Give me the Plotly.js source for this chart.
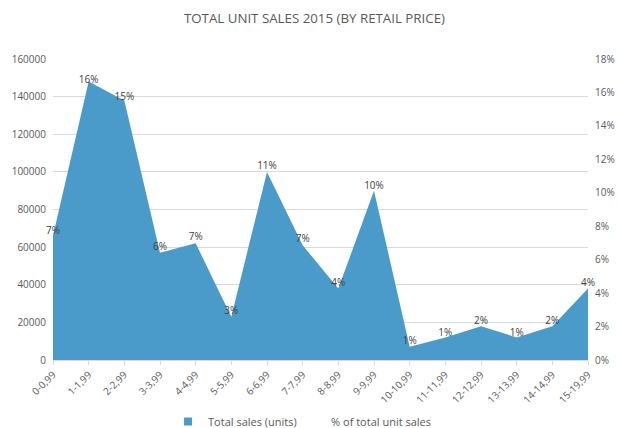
<!DOCTYPE html>
<html>
<head>
<meta charset="utf-8">
<script src="https://cdn.plot.ly/plotly-3.0.1.min.js"></script>
<style>html,body{margin:0;padding:0;background:#fff}#chart{width:619px;height:428px}</style>
</head>
<body>
<div id="chart"></div>
<script>
const categories = ["0-0,99","1-1,99","2-2,99","3-3,99","4-4,99","5-5,99","6-6,99","7-7,99","8-8,99","9-9,99","10-10,99","11-11,99","12-12,99","13-13,99","14-14,99","15-19,99"];
const totalSales = [66000,148000,138000,57000,62000,23000,100000,61000,38000,90000,7000,12000,18000,12000,18000,38000];
const pctOfTotal = [7.4,16.4,15.4,6.4,7.0,2.6,11.3,6.9,4.3,10.1,0.8,1.3,2.0,1.3,2.0,4.3];
const pctTicks = [0,2,4,6,8,10,12,14,16,18];

const font = {family: "Open Sans, sans-serif", color: "#595959", size: 10};
const blue = "#4a9bc9";

const traces = [
  {
    x: categories, y: totalSales, name: "Total sales (units)",
    type: "scatter", mode: "none", fill: "tozeroy",
    fillcolor: blue, yaxis: "y", hoverinfo: "skip", showlegend: false
  },
  {
    x: [categories[0]], y: [null], name: "Total sales (units)",
    type: "scatter", mode: "markers", marker: {symbol: "square", size: 8, color: blue},
    yaxis: "y", showlegend: true
  },
  {
    x: categories, y: pctOfTotal, name: "% of total unit sales",
    type: "scatter", mode: "lines+text", line: {color: "rgba(0,0,0,0)", width: 0},
    text: pctOfTotal.map(v => Math.round(v) + "%"),
    textposition: "top center",
    textfont: {family: "Open Sans, sans-serif", size: 10, color: "#404040"},
    yaxis: "y2", cliponaxis: false, hoverinfo: "skip"
  },
  {
    x: [categories[0]], y: [null], name: " ",
    type: "scatter", mode: "lines", line: {color: "rgba(0,0,0,0)", width: 0},
    yaxis: "y2", showlegend: true, hoverinfo: "skip"
  }
];

const layout = {
  width: 619, height: 428,
  margin: {l: 53, r: 31, t: 59, b: 68},
  paper_bgcolor: "#fff", plot_bgcolor: "#fff",
  font: font,
  title: {text: "TOTAL UNIT SALES 2015 (BY RETAIL PRICE)", x: 0.508, xanchor: "center", y: 0.957, yanchor: "middle",
          font: {family: "Open Sans, sans-serif", size: 13.3, color: "#595959"}},
  showlegend: true,
  legend: {orientation: "h", xref: "container", yref: "container", x: 0.2715, xanchor: "left", y: 0.049, yanchor: "top",
           font: {family: "Open Sans, sans-serif", size: 11, color: "#595959"}, itemwidth: 30, entrywidth: 78},
  xaxis: {
    type: "category", range: [0, 15], tickangle: -45, automargin: false,
    showline: true, linecolor: "#d9d9d9", ticks: "outside", ticklen: 4, tickcolor: "#d9d9d9",
    showgrid: false, tickfont: font, fixedrange: true
  },
  yaxis: {
    range: [0, 160000], dtick: 20000, tick0: 0, showgrid: true, gridcolor: "#d9d9d9",
    zeroline: false, showline: false, tickfont: font, ticks: "", tickformat: "d", ticklabelstandoff: 6, automargin: false
  },
  yaxis2: {
    overlaying: "y", side: "right", range: [0, 18], tickvals: pctTicks,
    ticktext: pctTicks.map(v => v + "%"), showgrid: false, zeroline: false,
    showline: false, tickfont: font, ticks: "", ticklabelstandoff: 6, automargin: false
  }
};

Plotly.newPlot("chart", traces, layout, {staticPlot: true});
</script>
</body>
</html>
